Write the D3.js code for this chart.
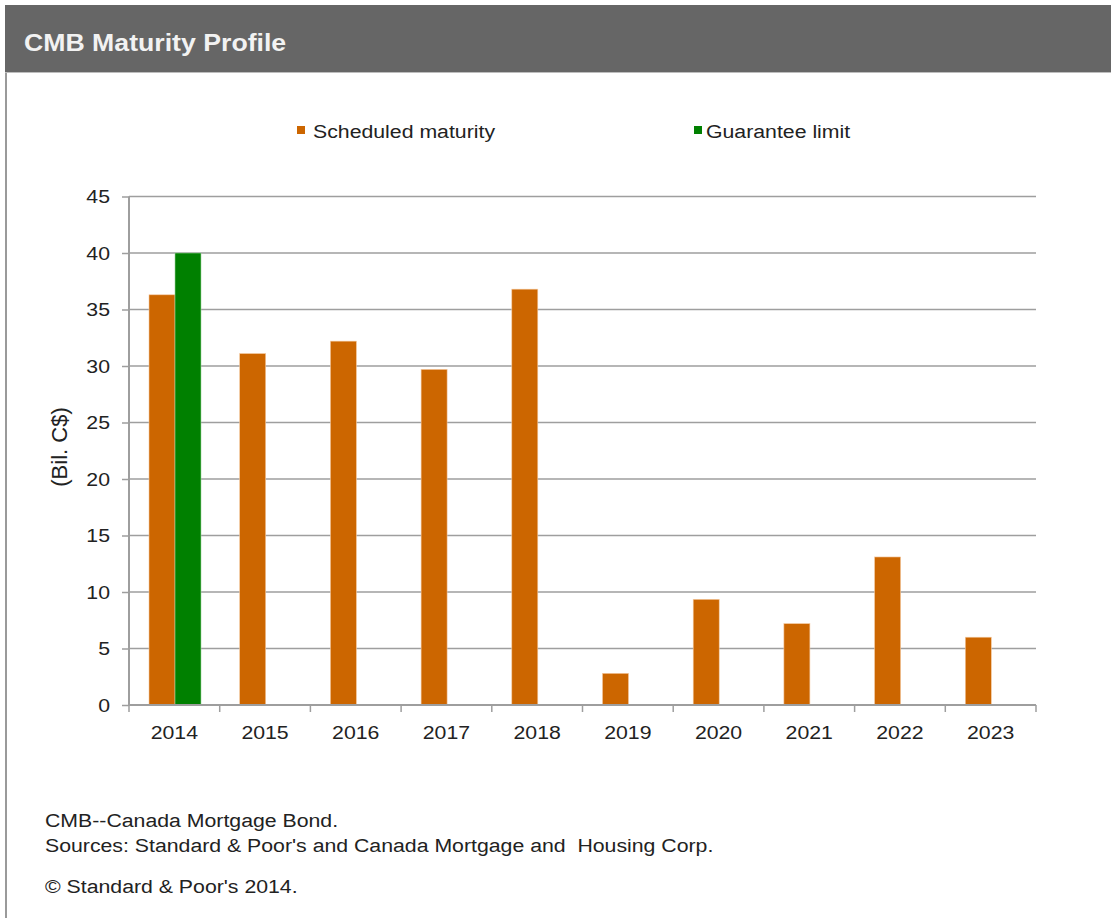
<!DOCTYPE html>
<html>
<head>
<meta charset="utf-8">
<script src="https://cdn.jsdelivr.net/npm/d3@7/dist/d3.min.js"></script>
<style>
  html, body { margin: 0; padding: 0; background: #ffffff; }
  svg { display: block; font-family: "Liberation Sans", Arial, sans-serif; }
</style>
</head>
<body>
<svg id="chart" width="1111" height="918"></svg>
<script>
// Chart data
const years = ["2014", "2015", "2016", "2017", "2018", "2019", "2020", "2021", "2022", "2023"];
const scheduledMaturity = [36.3, 31.1, 32.2, 29.7, 36.8, 2.8, 9.35, 7.2, 13.1, 6.0];
const guaranteeLimit = [40, null, null, null, null, null, null, null, null, null];
const seriesNames = ["Scheduled maturity", "Guarantee limit"];
const seriesColors = ["#cc6600", "#008000"];
const yTicks = [0, 5, 10, 15, 20, 25, 30, 35, 40, 45];
const footnotes = [
  "CMB--Canada Mortgage Bond.",
  "Sources: Standard & Poor's and Canada Mortgage and  Housing Corp."
];
const copyright = "\u00A9 Standard & Poor's 2014.";

(function draw() {
  const svg = d3.select("#chart");
  const FONT = 19;      // body text size
  const SX = 1.12;      // slightly widened lettering

  // Text placed at (x, baseline y), widened horizontally
  function label(parent, x, y, txt, size, sx, attrs) {
    const t = parent.append("text")
      .attr("transform", `translate(${x},${y}) scale(${sx},1)`)
      .attr("font-size", size).attr("fill", "#222")
      .style("white-space", "pre")
      .text(txt);
    Object.entries(attrs || {}).forEach(([k, v]) => t.attr(k, v));
    return t;
  }

  // Header band and panel frame
  svg.append("rect").attr("x", 5).attr("y", 5).attr("width", 1106).attr("height", 67).attr("fill", "#666666");
  svg.append("line").attr("x1", 6).attr("x2", 6).attr("y1", 72).attr("y2", 918)
    .attr("stroke", "#9a9a9a").attr("stroke-width", 2);
  svg.append("line").attr("x1", 5).attr("x2", 1111).attr("y1", 72.5).attr("y2", 72.5)
    .attr("stroke", "#bdbdbd").attr("stroke-width", 1);
  label(svg, 24, 51, "CMB Maturity Profile", 23, 1.16, { "font-weight": "bold", fill: "#f2f2f2" });

  // Plot area
  const plotLeft = 129, plotRight = 1036, plotTop = 196.5, plotBottom = 705;

  const x = d3.scaleBand().domain(years).range([plotLeft, plotRight]).paddingInner(0).paddingOuter(0);
  const slot = d3.scaleBand().domain([0, 1]).range([20, 72]);
  const y = d3.scaleLinear().domain([0, 45]).range([plotBottom, plotTop]);

  // Gridlines
  svg.append("g").selectAll("line").data(yTicks.filter(d => d > 0)).join("line")
    .attr("x1", plotLeft).attr("x2", plotRight)
    .attr("y1", d => y(d)).attr("y2", d => y(d))
    .attr("stroke", "#9e9e9e").attr("stroke-width", 1.5);

  // Bars
  const rows = [scheduledMaturity, guaranteeLimit];
  rows.forEach((vals, s) => {
    svg.append("g").selectAll("rect")
      .data(years.map((yr, i) => ({ yr, v: vals[i] })).filter(d => d.v != null))
      .join("rect")
      .attr("x", d => x(d.yr) + slot(s))
      .attr("width", slot.bandwidth())
      .attr("y", d => y(d.v))
      .attr("height", d => y(0) - y(d.v))
      .attr("fill", seriesColors[s])
      .attr("stroke", s === 0 ? "#f4c9a0" : "#9fd49f")
      .attr("stroke-width", 0.6);
  });

  // Y axis
  const yAxis = svg.append("g").attr("transform", `translate(${plotLeft},0)`)
    .call(d3.axisLeft(y).tickValues(yTicks).tickSize(7).tickPadding(0));
  yAxis.select(".domain").attr("stroke", "#9e9e9e").attr("stroke-width", 2)
    .attr("d", `M0,${plotTop}V${plotBottom}`);
  yAxis.selectAll(".tick line").attr("stroke", "#9e9e9e").attr("stroke-width", 1.5);
  yAxis.selectAll(".tick text")
    .attr("x", -19 / SX).attr("transform", `scale(${SX},1)`)
    .attr("font-size", FONT).attr("fill", "#222")
    .attr("font-family", "Liberation Sans, Arial, sans-serif");

  // X axis with ticks on category boundaries
  const xAxis = svg.append("g").attr("transform", `translate(0,${plotBottom})`)
    .call(d3.axisBottom(x).tickSize(0));
  xAxis.select(".domain").attr("stroke", "#9e9e9e").attr("stroke-width", 2)
    .attr("d", `M${plotLeft},0H${plotRight}`);
  xAxis.selectAll(".tick text")
    .attr("y", 34).attr("dy", null).attr("transform", `scale(${SX},1)`)
    .attr("font-size", FONT).attr("fill", "#222")
    .attr("font-family", "Liberation Sans, Arial, sans-serif");
  const bounds = years.map(d => x(d)).concat([x(years[years.length - 1]) + x.bandwidth()]);
  xAxis.append("g").selectAll("line").data(bounds).join("line")
    .attr("x1", d => d).attr("x2", d => d).attr("y1", 0).attr("y2", 7)
    .attr("stroke", "#9e9e9e").attr("stroke-width", 1.5);

  // Y axis title
  svg.append("text")
    .attr("transform", `translate(67,447) rotate(-90)`)
    .attr("text-anchor", "middle").attr("font-size", 22).attr("fill", "#222")
    .text("(Bil. C$)");

  // Legend
  const legendX = [297, 694];
  const legendGap = [16, 12];
  seriesNames.forEach((name, i) => {
    svg.append("rect").attr("x", legendX[i]).attr("y", 126).attr("width", 8).attr("height", 8)
      .attr("fill", seriesColors[i]);
    label(svg, legendX[i] + legendGap[i], 138, name, FONT, SX);
  });

  // Footnotes
  footnotes.forEach((line, i) => label(svg, 45, 827 + i * 25, line, FONT, SX));
  label(svg, 45, 893, copyright, FONT, SX);
})();
</script>
</body>
</html>
